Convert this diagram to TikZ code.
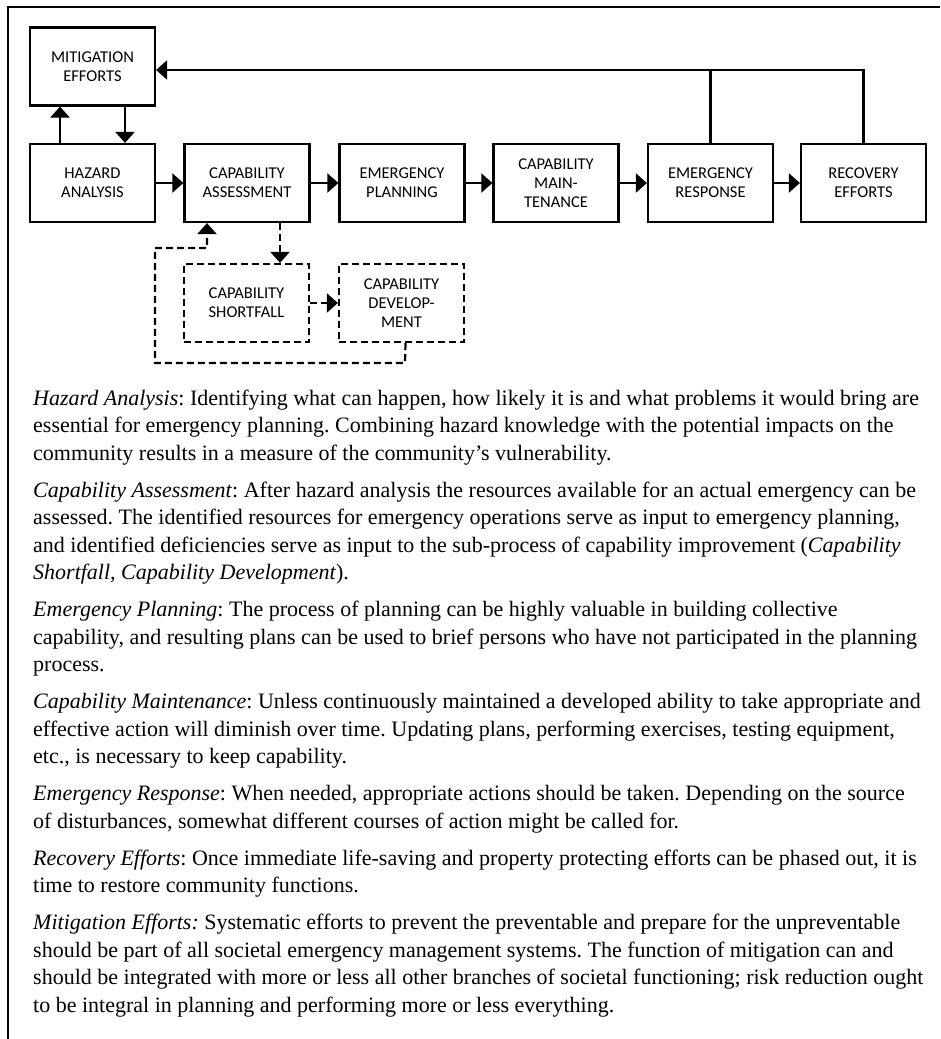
\documentclass[tikz,border=0pt]{standalone}
\usepackage{fontspec}
\setmainfont{Liberation Serif}
\newfontfamily\boxfont{Carlito}
\usetikzlibrary{arrows.meta}
\frenchspacing
\begin{document}
\begin{tikzpicture}[x=1pt,y=-1pt,
  box/.style={draw,line width=2.2pt,minimum width=125pt,minimum height=78pt,
    align=center,inner sep=0pt,font=\boxfont\fontsize{16.5}{19}\selectfont},
  dbox/.style={box,dash pattern=on 7pt off 4pt},
  link/.style={line width=2.2pt,-{Triangle[width=19pt,length=11pt]}},
  dlink/.style={link,dash pattern=on 7pt off 4pt},
  plain/.style={line width=2.2pt},
  para/.style={anchor=base west,inner sep=0pt,font=\fontsize{22}{27}\selectfont}]
\useasboundingbox (0,0) rectangle (940,1039);

% frame: top and left rules
\draw[line width=2.4pt] (8,1039) -- (8,7) -- (940,7);

% process boxes
\node[box] (M)  at (92.5,66.5) {MITIGATION\\EFFORTS};
\node[box] (H)  at (92.5,183)  {HAZARD\\ANALYSIS};
\node[box] (CA) at (247,183)   {CAPABILITY\\ASSESSMENT};
\node[box] (EP) at (402,183)   {EMERGENCY\\PLANNING};
\node[box] (CM) at (556,183)   {CAPABILITY\\MAIN-\\TENANCE};
\node[box] (ER) at (710.5,183) {EMERGENCY\\RESPONSE};
\node[box] (RE) at (863.5,183) {RECOVERY\\EFFORTS};
\node[dbox] (CS) at (246.5,303) {CAPABILITY\\SHORTFALL};
\node[dbox] (CD) at (401.5,303) {CAPABILITY\\DEVELOP-\\MENT};

% main chain
\draw[link] (H) -- (CA);
\draw[link] (CA) -- (EP);
\draw[link] (EP) -- (CM);
\draw[link] (CM) -- (ER);
\draw[link] (ER) -- (RE);

% hazard analysis <-> mitigation
\draw[link] ([xshift=-32.5pt]H.north) -- ([xshift=-32.5pt]M.south);
\draw[link] ([xshift=32.5pt]M.south) -- ([xshift=32.5pt]H.north);

% feedback to mitigation
\coordinate (mIn) at ([yshift=-3.5pt]M.east);
\coordinate (jER) at (ER.north |- mIn);
\draw[link] (RE.north) |- (mIn);
\draw[plain] (ER.north) -- (jER);

% capability improvement loop
\draw[dlink] ([xshift=33pt]CA.south) -- ([xshift=33pt]CA.south |- CS.north);
\draw[dlink] (CS) -- (CD);
\coordinate (l1) at ([xshift=4pt]CD.south);
\coordinate (l2) at (405,363);
\coordinate (l3) at (155,363);
\coordinate (l4) at (155,248);
\coordinate (l5) at ([xshift=-40pt]CA.south |- l4);
\draw[dlink] (l1) -- (l2) -- (l3) -- (l4) -- (l5) -- ([xshift=-40pt]CA.south);

% descriptions
\node[para] (t1) at (33,405) {\textit{Hazard Analysis}: Identifying what can happen, how likely it is and what problems it would bring are};
\node[para] (t2) at (33,432.5) {essential for emergency planning. Combining hazard knowledge with the potential impacts on the};
\node[para] (t3) at (33,460) {community results in a measure of the community’s vulnerability.};

\node[para] (t4) at (33,497) {\textit{Capability Assessment}: After hazard analysis the resources available for an actual emergency can be};
\node[para] (t5) at (33,524.5) {assessed. The identified resources for emergency operations serve as input to emergency planning,};
\node[para] (t6) at (33,552) {and identified deficiencies serve as input to the sub-process of capability improvement (\textit{Capability}};
\node[para] (t7) at (33,579.5) {\textit{Shortfall, Capability Development}).};

\node[para] (t8) at (33,616.5) {\textit{Emergency Planning}: The process of planning can be highly valuable in building collective};
\node[para] (t9) at (33,644) {capability, and resulting plans can be used to brief persons who have not participated in the planning};
\node[para] (t10) at (33,671.5) {process.};

\node[para] (t11) at (33,708.5) {\textit{Capability Maintenance}: Unless continuously maintained a developed ability to take appropriate and};
\node[para] (t12) at (33,736) {effective action will diminish over time. Updating plans, performing exercises, testing equipment,};
\node[para] (t13) at (33,763.5) {etc., is necessary to keep capability.};

\node[para] (t14) at (33,800.5) {\textit{Emergency Response}: When needed, appropriate actions should be taken. Depending on the source};
\node[para] (t15) at (33,828) {of disturbances, somewhat different courses of action might be called for.};

\node[para] (t16) at (33,865) {\textit{Recovery Efforts}: Once immediate life-saving and property protecting efforts can be phased out, it is};
\node[para] (t17) at (33,892.5) {time to restore community functions.};

\node[para] (t18) at (33,929.5) {\textit{Mitigation Efforts:} Systematic efforts to prevent the preventable and prepare for the unpreventable};
\node[para] (t19) at (33,957) {should be part of all societal emergency management systems. The function of mitigation can and};
\node[para] (t20) at (33,984.5) {should be integrated with more or less all other branches of societal functioning; risk reduction ought};
\node[para] (t21) at (33,1012) {to be integral in planning and performing more or less everything.};
\end{tikzpicture}
\end{document}
